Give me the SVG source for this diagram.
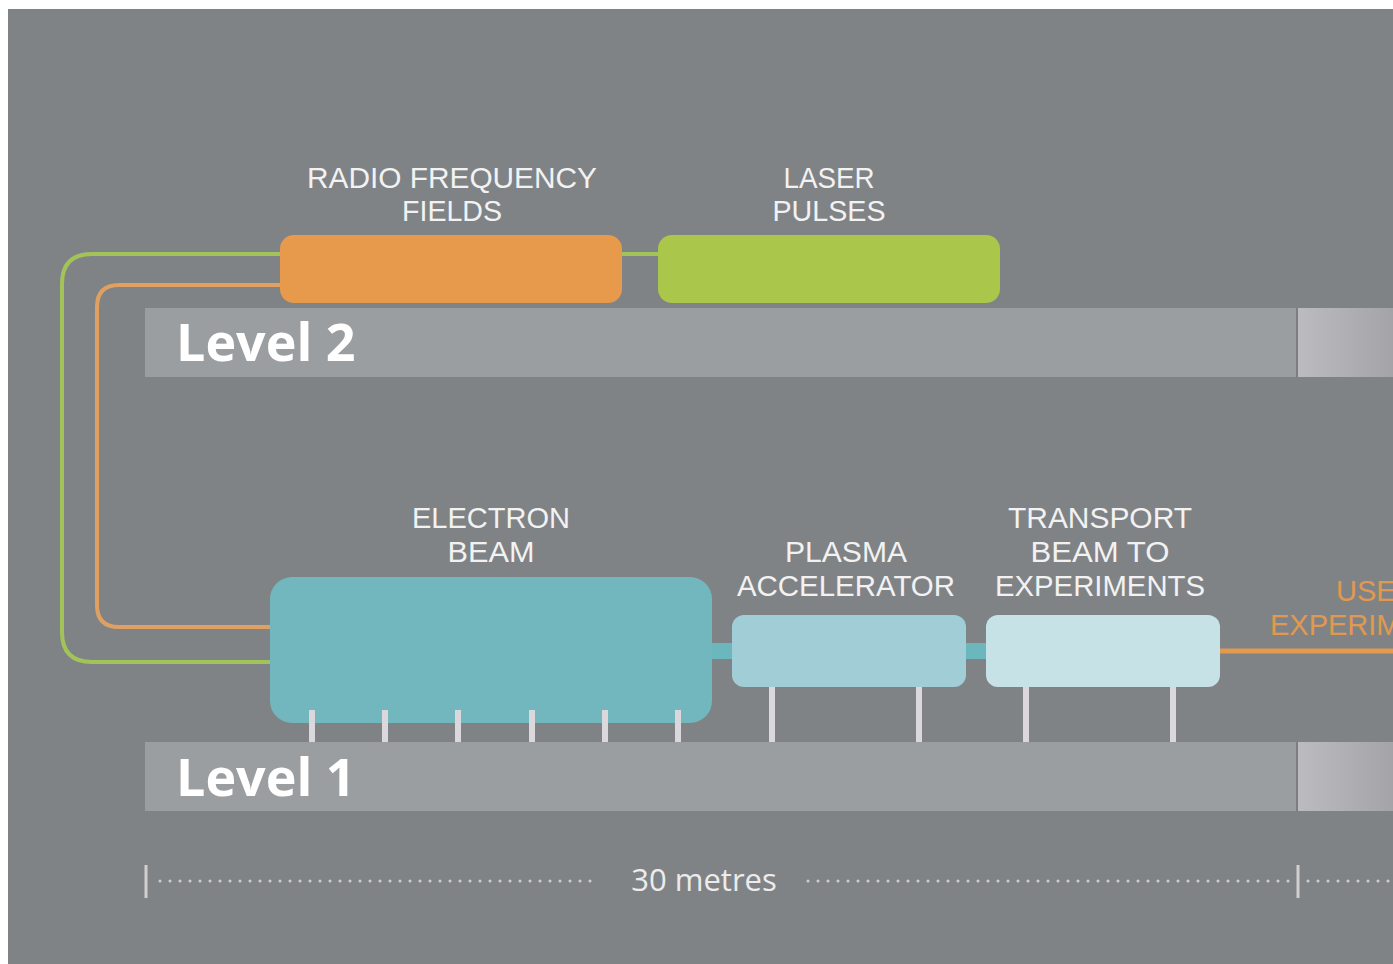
<svg xmlns="http://www.w3.org/2000/svg" width="1393" height="964" viewBox="0 0 1393 964">
<defs>
<linearGradient id="endGrad" x1="0" y1="0" x2="1" y2="0">
<stop offset="0" stop-color="#bcbbc0"/>
<stop offset="1" stop-color="#a4a4a8"/>
</linearGradient>
<style>
.lbl{font-family:"Liberation Sans",Arial,sans-serif;font-size:29px;fill:#f2f2f2;text-anchor:middle}
.lvl{font-family:"Open Sans","Liberation Sans",sans-serif;font-size:52px;font-weight:bold;fill:#ffffff}
.use{font-family:"Liberation Sans",Arial,sans-serif;font-size:29px;fill:#e0994f}
.bar{fill:#9b9ea1}
.stem{stroke:#dbd8dd;stroke-width:6}
.wire{fill:none;stroke-width:4}
.dots{stroke:#cfcfcf;stroke-width:3;stroke-linecap:round;stroke-dasharray:0 10}
</style>
</defs>
<rect x="0" y="0" width="1393" height="964" fill="#ffffff"/>
<rect x="8" y="9" width="1385" height="955" fill="#808386"/>

<g id="level2">
<rect class="bar" x="145" y="308" width="1152" height="69"/>
<rect x="1297" y="308" width="96" height="69" fill="url(#endGrad)"/>
<line x1="1297" y1="308" x2="1297" y2="377" stroke="#7c7e82" stroke-width="2"/>
<text class="lvl" x="176" y="361">Level 2</text>
</g>
<g id="level1">
<rect class="bar" x="145" y="742" width="1152" height="69"/>
<rect x="1297" y="742" width="96" height="69" fill="url(#endGrad)"/>
<line x1="1297" y1="742" x2="1297" y2="811" stroke="#7c7e82" stroke-width="2"/>
<text class="lvl" x="176" y="796">Level 1</text>
</g>

<g id="connectors">
<path class="wire" stroke="#a2c35a" d="M282,254 H92 Q62,254 62,284 V632 Q62,662 92,662 H272"/>
<path class="wire" stroke="#e0a062" d="M282,285 H119 Q97,285 97,307 V605 Q97,627 119,627 H272"/>
<line x1="620" y1="254" x2="660" y2="254" stroke="#a2c35a" stroke-width="4"/>
<rect x="710" y="643" width="24" height="16" fill="#6cb6bd"/>
<rect x="964" y="643" width="24" height="16" fill="#6cb6bd"/>
<line x1="1218" y1="651" x2="1393" y2="651" stroke="#e19a4f" stroke-width="5"/>
</g>

<g id="rf">
<rect x="280" y="235" width="342" height="68" rx="14" fill="#e89a4c"/>
<text class="lbl" x="452" y="188" textLength="290" lengthAdjust="spacingAndGlyphs">RADIO FREQUENCY</text>
<text class="lbl" x="452" y="221" textLength="100" lengthAdjust="spacingAndGlyphs">FIELDS</text>
</g>
<g id="laser">
<rect x="658" y="235" width="342" height="68" rx="14" fill="#aac64b"/>
<text class="lbl" x="829" y="188" textLength="91" lengthAdjust="spacingAndGlyphs">LASER</text>
<text class="lbl" x="829" y="221" textLength="113" lengthAdjust="spacingAndGlyphs">PULSES</text>
</g>

<g id="electron">
<rect x="270" y="577" width="442" height="146" rx="22" fill="#72b6be"/>
<line class="stem" x1="312" y1="710" x2="312" y2="742"/>
<line class="stem" x1="385" y1="710" x2="385" y2="742"/>
<line class="stem" x1="458" y1="710" x2="458" y2="742"/>
<line class="stem" x1="532" y1="710" x2="532" y2="742"/>
<line class="stem" x1="605" y1="710" x2="605" y2="742"/>
<line class="stem" x1="678" y1="710" x2="678" y2="742"/>
<text class="lbl" x="491" y="528" textLength="158" lengthAdjust="spacingAndGlyphs">ELECTRON</text>
<text class="lbl" x="491" y="562" textLength="87" lengthAdjust="spacingAndGlyphs">BEAM</text>
</g>
<g id="plasma">
<rect x="732" y="615" width="234" height="72" rx="12" fill="#a1ced6"/>
<line class="stem" x1="772" y1="687" x2="772" y2="742"/>
<line class="stem" x1="919" y1="687" x2="919" y2="742"/>
<text class="lbl" x="846" y="562" textLength="122" lengthAdjust="spacingAndGlyphs">PLASMA</text>
<text class="lbl" x="846" y="596" textLength="218" lengthAdjust="spacingAndGlyphs">ACCELERATOR</text>
</g>
<g id="transport">
<rect x="986" y="615" width="234" height="72" rx="12" fill="#c7e2e6"/>
<line class="stem" x1="1026" y1="687" x2="1026" y2="742"/>
<line class="stem" x1="1173" y1="687" x2="1173" y2="742"/>
<text class="lbl" x="1100" y="528" textLength="184" lengthAdjust="spacingAndGlyphs">TRANSPORT</text>
<text class="lbl" x="1100" y="562" textLength="139" lengthAdjust="spacingAndGlyphs">BEAM TO</text>
<text class="lbl" x="1100" y="596" textLength="210" lengthAdjust="spacingAndGlyphs">EXPERIMENTS</text>
</g>
<g id="use">
<text class="use" x="1336" y="601">USE</text>
<text class="use" x="1270" y="635">EXPERIM</text>
</g>

<g id="scale">
<line x1="146" y1="865" x2="146" y2="898" stroke="#cfcfcf" stroke-width="3"/>
<line class="dots" x1="160" y1="881" x2="600" y2="881"/>
<text x="704" y="891" font-family="Open Sans, Liberation Sans, sans-serif" font-size="31" fill="#ececec" text-anchor="middle">30 metres</text>
<line class="dots" x1="808" y1="881" x2="1290" y2="881"/>
<line x1="1298" y1="865" x2="1298" y2="898" stroke="#cfcfcf" stroke-width="3"/>
<line class="dots" x1="1308" y1="881" x2="1393" y2="881"/>
</g>
</svg>
